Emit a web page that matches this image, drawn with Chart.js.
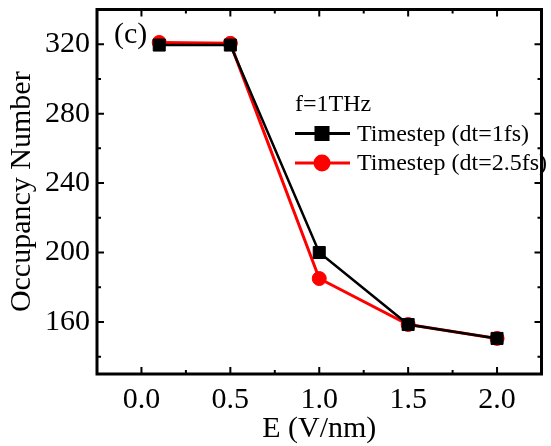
<!DOCTYPE html>
<html>
<head>
<meta charset="utf-8">
<script src="https://cdn.jsdelivr.net/npm/chart.js@4.4.0/dist/chart.umd.min.js"></script>
<style>
  html, body { margin: 0; padding: 0; background: #fff; }
  canvas { display: block; }
</style>
</head>
<body>
<canvas id="chart" width="551" height="446"></canvas>
<script>
// data
const fieldE = [0.1, 0.5, 1.0, 1.5, 2.0];
const occDt1 = [319.5, 319.5, 200, 158.5, 150.5];
const occDt25 = [321, 320.5, 185, 158.5, 150.5];
const xTickVals = [0.0, 0.5, 1.0, 1.5, 2.0];
const yTickVals = [160, 200, 240, 280, 320];
const legendTitle = "f=1THz";
const panelTag = "(c)";

const SERIF = "'Liberation Serif', 'Times New Roman', serif";

// minor ticks halfway between majors, kept inside the axis range
function minorVals(majors, min, max) {
  const step = majors[1] - majors[0];
  const out = [];
  for (let v = majors[0] - step / 2; v <= max + 1e-9; v += step) {
    if (v >= min - 1e-9) out.push(v);
  }
  return out;
}

// box frame with inward ticks on all four sides
const framePlugin = {
  id: "frame",
  afterDraw(chart) {
    const { ctx, chartArea: a, scales: { x, y } } = chart;
    ctx.save();
    ctx.strokeStyle = "#000";
    ctx.lineWidth = 2;
    const xt = (v, len) => {
      const px = x.getPixelForValue(v);
      ctx.beginPath();
      ctx.moveTo(px, a.bottom); ctx.lineTo(px, a.bottom - len);
      ctx.moveTo(px, a.top); ctx.lineTo(px, a.top + len);
      ctx.stroke();
    };
    const yt = (v, len) => {
      const py = y.getPixelForValue(v);
      ctx.beginPath();
      ctx.moveTo(a.left, py); ctx.lineTo(a.left + len, py);
      ctx.moveTo(a.right, py); ctx.lineTo(a.right - len, py);
      ctx.stroke();
    };
    xTickVals.forEach((v) => xt(v, 7));
    minorVals(xTickVals, x.min, x.max).forEach((v) => xt(v, 4));
    yTickVals.forEach((v) => yt(v, 7));
    minorVals(yTickVals, y.min, y.max).forEach((v) => yt(v, 4));
    ctx.lineWidth = 3;
    ctx.strokeRect(a.left, a.top, a.right - a.left, a.bottom - a.top);
    ctx.restore();
  },
};

// legend + panel tag inside the plot
const legendPlugin = {
  id: "innerLegend",
  afterDatasetsDraw(chart) {
    const { ctx, chartArea: a } = chart;
    ctx.save();
    ctx.fillStyle = "#000";
    ctx.textBaseline = "middle";
    ctx.textAlign = "left";
    ctx.font = "30px " + SERIF;
    ctx.fillText(panelTag, a.left + 17, a.top + 26);

    ctx.font = "24px " + SERIF;
    const lx = a.left + 198;
    ctx.fillText(legendTitle, lx, a.top + 95);
    chart.data.datasets.forEach((ds, i) => {
      const ly = a.top + 124 + i * 29.5;
      ctx.strokeStyle = ds.borderColor;
      ctx.lineWidth = 3;
      ctx.beginPath();
      ctx.moveTo(lx, ly); ctx.lineTo(lx + 55, ly);
      ctx.stroke();
      ctx.fillStyle = ds.pointBackgroundColor;
      ctx.strokeStyle = ds.pointBorderColor;
      Chart.helpers.drawPoint(ctx, {
        pointStyle: ds.pointStyle, radius: ds.pointRadius, rotation: 0, borderWidth: 1,
      }, lx + 27, ly);
      ctx.fillStyle = "#000";
      ctx.fillText(ds.label, lx + 62, ly + 1);
    });
    ctx.restore();
  },
};

new Chart(document.getElementById("chart"), {
  type: "line",
  data: {
    datasets: [
      {
        label: "Timestep (dt=1fs)",
        data: fieldE.map((e, i) => ({ x: e, y: occDt1[i] })),
        borderColor: "#000",
        borderWidth: 2.5,
        pointStyle: "rect",
        pointRadius: 8.5,
        pointBackgroundColor: "#000",
        pointBorderColor: "#000",
        pointBorderWidth: 1,
        tension: 0,
      },
      {
        label: "Timestep (dt=2.5fs)",
        data: fieldE.map((e, i) => ({ x: e, y: occDt25[i] })),
        borderColor: "#ff0000",
        borderWidth: 3,
        pointStyle: "circle",
        pointRadius: 7,
        pointBackgroundColor: "#ff0000",
        pointBorderColor: "#ff0000",
        pointBorderWidth: 1,
        tension: 0,
      },
    ],
  },
  options: {
    responsive: false,
    animation: false,
    devicePixelRatio: 1,
    layout: { padding: { top: 7, right: 2, left: 0, bottom: 0 } },
    plugins: { legend: { display: false }, tooltip: { enabled: false } },
    scales: {
      x: {
        type: "linear",
        min: -0.25,
        max: 2.25,
        afterBuildTicks: (s) => { s.ticks = xTickVals.map((v) => ({ value: v })); },
        afterFit: (s) => { s.height = 72; s.paddingLeft = 0; s.paddingRight = 0; },
        grid: { display: false, drawTicks: false },
        border: { display: false },
        ticks: {
          padding: 8,
          color: "#000",
          font: { family: SERIF, size: 30 },
          callback: (v) => Number(v).toFixed(1),
        },
        title: {
          display: true,
          text: "E (V/nm)",
          color: "#000",
          font: { family: SERIF, size: 30, lineHeight: 1.1 },
          padding: 0,
        },
      },
      y: {
        min: 130,
        max: 340,
        afterBuildTicks: (s) => { s.ticks = yTickVals.map((v) => ({ value: v })); },
        afterFit: (s) => { s.width = 97; s.paddingTop = 0; s.paddingBottom = 0; },
        grid: { display: false, drawTicks: false },
        border: { display: false },
        ticks: {
          padding: 7,
          color: "#000",
          font: { family: SERIF, size: 30 },
        },
        title: {
          display: true,
          text: "Occupancy Number",
          color: "#000",
          font: { family: SERIF, size: 30, lineHeight: 1.1 },
          padding: { top: 6, bottom: 0 },
        },
      },
    },
  },
  plugins: [framePlugin, legendPlugin],
});
</script>
</body>
</html>
